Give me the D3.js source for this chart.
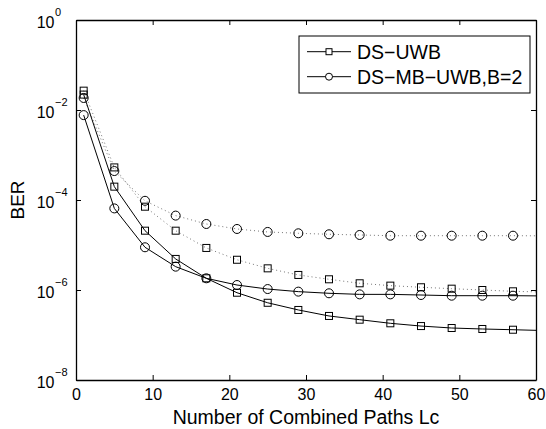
<!DOCTYPE html>
<html>
<head>
<meta charset="utf-8">
<script src="https://cdn.jsdelivr.net/npm/d3@7"></script>
<style>
  body { margin: 0; background: #fff; }
  svg { font-family: "Liberation Sans", Arial, sans-serif; }
</style>
</head>
<body>
<svg id="chart" width="546" height="429"></svg>
<script>
// Data (last point is where the line ends at Lc = 60)
const paths = [1, 5, 9, 13, 17, 21, 25, 29, 33, 37, 41, 45, 49, 53, 57, 60];
const dsUwb = [2.2e-2, 1.98e-4, 2.08e-5, 4.9e-6, 1.82e-6, 8.7e-7, 5.2e-7, 3.6e-7,
               2.65e-7, 2.19e-7, 1.82e-7, 1.58e-7, 1.43e-7, 1.36e-7, 1.31e-7, 1.27e-7];
const dsMbUwb = [7.7e-3, 6.5e-5, 8.9e-6, 3.3e-6, 1.82e-6, 1.29e-6, 1.05e-6, 9.2e-7,
                 8.45e-7, 8.0e-7, 8.0e-7, 7.74e-7, 7.47e-7, 7.47e-7, 7.47e-7, 7.4e-7];
const dsUwbDotted = [2.69e-2, 5.3e-4, 7.1e-5, 2.08e-5, 8.6e-6, 4.7e-6, 3.03e-6, 2.16e-6,
                     1.73e-6, 1.41e-6, 1.25e-6, 1.15e-6, 1.07e-6, 1.0e-6, 9.35e-7, 9.1e-7];
const dsMbUwbDotted = [1.85e-2, 4.4e-4, 9.6e-5, 4.5e-5, 2.93e-5, 2.27e-5, 1.95e-5, 1.82e-5,
                       1.73e-5, 1.67e-5, 1.61e-5, 1.61e-5, 1.61e-5, 1.61e-5, 1.61e-5, 1.6e-5];
const xTicks = [0, 10, 20, 30, 40, 50, 60];
const yTicks = [1e-8, 1e-6, 1e-4, 1e-2, 1];
const legendLabels = ["DS\u2212UWB", "DS\u2212MB\u2212UWB,B=2"];

const svg = d3.select("#chart");
const margin = { top: 20, right: 10, bottom: 49, left: 76 };
const width = 546 - margin.left - margin.right;
const height = 429 - margin.top - margin.bottom;

const x = d3.scaleLinear().domain([0, 60]).range([0, width]);
const y = d3.scaleLog().domain([1e-8, 1]).range([height, 0]);

const g = svg.append("g").attr("transform", `translate(${margin.left},${margin.top})`);

// series
const series = [
  { values: dsUwbDotted, marker: "square", dotted: true },
  { values: dsMbUwbDotted, marker: "circle", dotted: true },
  { values: dsUwb, marker: "square", dotted: false },
  { values: dsMbUwb, marker: "circle", dotted: false }
];

const line = d3.line()
  .x(d => x(d[0]))
  .y(d => y(d[1]));

series.forEach(s => {
  const pts = paths.map((p, i) => [p, s.values[i]]);
  g.append("path")
    .attr("d", line(pts))
    .attr("fill", "none")
    .attr("stroke", s.dotted ? "#777" : "#000")
    .attr("stroke-width", 1)
    .attr("stroke-dasharray", s.dotted ? "1,3" : null);

  // markers on every point except the line end
  const marks = pts.slice(0, pts.length - 1);
  if (s.marker === "square") {
    g.selectAll(null).data(marks).join("rect")
      .attr("x", d => x(d[0]) - 3.5)
      .attr("y", d => y(d[1]) - 3.5)
      .attr("width", 7).attr("height", 7)
      .attr("fill", "none").attr("stroke", "#000");
  } else {
    g.selectAll(null).data(marks).join("circle")
      .attr("cx", d => x(d[0]))
      .attr("cy", d => y(d[1]))
      .attr("r", 4.5)
      .attr("fill", "none").attr("stroke", "#000");
  }
});

// axes, ticks inside
const axisStyle = a => {
  a.select(".domain").attr("stroke-width", 1.3);
  a.selectAll(".tick line").attr("stroke-width", 1);
};

g.append("g")
  .attr("transform", `translate(0,${height})`)
  .call(d3.axisBottom(x).tickValues(xTicks).tickSizeInner(-5).tickSizeOuter(0).tickPadding(9))
  .call(axisStyle)
  .call(a => a.selectAll("text").attr("font-size", 16).attr("fill", "#000"));

g.append("g")
  .call(d3.axisTop(x).tickValues(xTicks).tickSizeInner(-5).tickSizeOuter(0).tickFormat(""))
  .call(axisStyle);

g.append("g")
  .attr("transform", `translate(${width},0)`)
  .call(d3.axisRight(y).tickValues(yTicks).tickSizeInner(-5).tickSizeOuter(0).tickFormat(""))
  .call(axisStyle);

const yAxis = g.append("g")
  .call(d3.axisLeft(y).tickValues(yTicks).tickSizeInner(-5).tickSizeOuter(0).tickFormat(""))
  .call(axisStyle);

// MATLAB-style power labels: base right-aligned, exponent after it
yAxis.selectAll(".tick").each(function (d) {
  const t = d3.select(this);
  const e = Math.round(Math.log10(d));
  t.append("text")
    .attr("x", -21.5).attr("y", 7.5)
    .attr("text-anchor", "end")
    .attr("font-size", 16).attr("fill", "#000")
    .text("10");
  t.append("text")
    .attr("x", -21).attr("y", -5)
    .attr("text-anchor", "start")
    .attr("font-size", 11).attr("fill", "#000")
    .text(e === 0 ? "0" : "\u2212" + Math.abs(e));
});

// axis titles
svg.append("text")
  .attr("x", margin.left + width / 2)
  .attr("y", 424)
  .attr("text-anchor", "middle")
  .attr("font-size", 19.5)
  .text("Number of Combined Paths Lc");

svg.append("text")
  .attr("transform", `translate(24,${margin.top + height / 2}) rotate(-90)`)
  .attr("text-anchor", "middle")
  .attr("font-size", 19)
  .text("BER");

// legend
const legend = svg.append("g").attr("transform", "translate(299,36)");
legend.append("rect")
  .attr("width", 231).attr("height", 57)
  .attr("fill", "#fff").attr("stroke", "#000").attr("stroke-width", 1);

legendLabels.forEach((label, i) => {
  const ly = 15.7 + i * 25;
  const row = legend.append("g").attr("transform", `translate(0,${ly})`);
  row.append("line").attr("x1", 8).attr("x2", 52).attr("stroke", "#000");
  if (i === 0) {
    row.append("rect").attr("x", 27).attr("y", -3).attr("width", 6).attr("height", 6)
      .attr("fill", "#fff").attr("stroke", "#000");
  } else {
    row.append("circle").attr("cx", 30).attr("r", 3.5)
      .attr("fill", "#fff").attr("stroke", "#000");
  }
  row.append("text")
    .attr("x", 58).attr("dy", "0.36em")
    .attr("font-size", 19.5)
    .text(label);
});
</script>
</body>
</html>
